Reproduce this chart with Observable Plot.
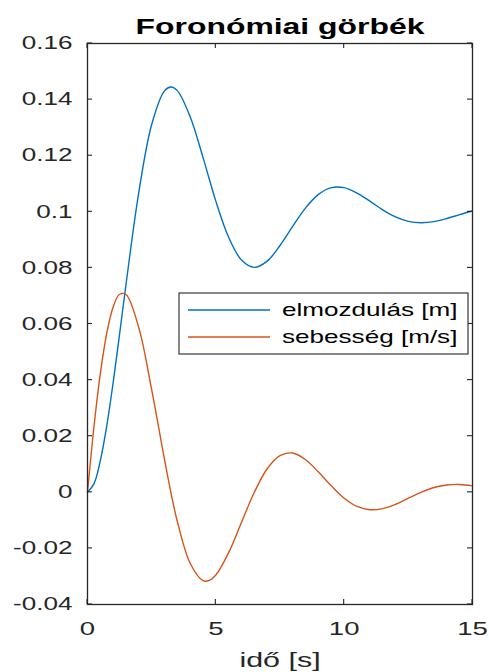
<!DOCTYPE html>
<html>
<head>
<meta charset="utf-8">
<script src="https://cdn.jsdelivr.net/npm/d3@7"></script>
<script src="https://cdn.jsdelivr.net/npm/@observablehq/plot@0.6"></script>
<style>
  html, body { margin: 0; padding: 0; background: #fff; }
  svg { display: block; }
</style>
</head>
<body>
<div id="chart"></div>
<script>
const titleText = "Foronómiai görbék";
const xLabelText = "idő [s]";
const seriesNames = ["elmozdulás [m]", "sebesség [m/s]"];
const seriesColors = ["#0072BD", "#D95319"];

const time = [0,0.25,0.5,0.75,1,1.25,1.5,2,2.5,3,3.25,3.5,4,4.5,4.75,5,5.5,6,6.5,7,7.5,8,8.5,9,9.5,10,10.5,11,11.5,12,12.5,13,13.5,14,14.5,15];
const displacement = [0,0.0030,0.0113,0.0237,0.0391,0.0564,0.0741,0.1070,0.1311,0.1431,0.1445,0.1432,0.1339,0.1194,0.1115,0.1038,0.0909,0.0828,0.0802,0.0824,0.0880,0.0949,0.1014,0.1062,0.1086,0.1086,0.1067,0.1038,0.1007,0.0982,0.0966,0.0961,0.0965,0.0976,0.0990,0.1003];
const velocity = [0,0.0232,0.0423,0.0567,0.0661,0.0706,0.0705,0.0586,0.0366,0.0117,-0.0001,-0.0104,-0.0253,-0.0315,-0.0314,-0.0295,-0.0215,-0.0107,0.0000,0.0084,0.0131,0.0140,0.0116,0.0072,0.0023,-0.0021,-0.0050,-0.0062,-0.0058,-0.0043,-0.0021,0.0000,0.0017,0.0026,0.0028,0.0023];

const xTicks = [0, 5, 10, 15];
const yTicks = [-0.04, -0.02, 0, 0.02, 0.04, 0.06, 0.08, 0.1, 0.12, 0.14, 0.16];

const dispData = time.map((t, i) => ({t, v: displacement[i]}));
const velData = time.map((t, i) => ({t, v: velocity[i]}));

(function () {
  const W = 489, H = 672;
  const mL = 87, mR = 17, mT = 43, mB = 68;
  const axisColor = "#262626";
  const font = "'Liberation Sans', Arial, sans-serif";
  const SX = 1.45; // horizontal glyph stretch seen in the reference

  const plot = Plot.plot({
    width: W, height: H,
    marginLeft: mL, marginRight: mR, marginTop: mT, marginBottom: mB,
    x: {domain: [0, 15]},
    y: {domain: [-0.04, 0.16]},
    style: {fontFamily: font, background: "#fff", color: axisColor},
    marks: [
      Plot.axisY(yTicks, {tickSize: 0, tickPadding: 15, fontSize: 18, label: null,
        tickFormat: d => String(+d.toFixed(2))}),
      Plot.axisX(xTicks, {tickSize: 0, tickPadding: 17, fontSize: 19, label: null}),
      Plot.line(dispData, {x: "t", y: "v", stroke: seriesColors[0], strokeWidth: 1.4, curve: "catmull-rom"}),
      Plot.line(velData, {x: "t", y: "v", stroke: seriesColors[1], strokeWidth: 1.4, curve: "catmull-rom"}),
      Plot.frame({stroke: axisColor, strokeWidth: 1.3}),
      Plot.text([titleText], {frameAnchor: "top", lineAnchor: "bottom", dy: -10, fontSize: 22, fontWeight: "bold", fill: "#000"}),
      Plot.text([xLabelText], {frameAnchor: "bottom", lineAnchor: "bottom", dy: 62, fontSize: 21, fill: axisColor})
    ]
  });

  const svg = d3.select(plot);
  const xs = plot.scale("x"), ys = plot.scale("y");
  const yTop = mT, yBottom = H - mB, xLeft = mL, xRight = W - mR;
  const tl = 5;
  const tg = svg.append("g").attr("stroke", axisColor).attr("stroke-width", 1.1);
  for (const v of xTicks) {
    const x = xs.apply(v);
    tg.append("line").attr("x1", x).attr("x2", x).attr("y1", yBottom).attr("y2", yBottom - tl);
    tg.append("line").attr("x1", x).attr("x2", x).attr("y1", yTop).attr("y2", yTop + tl);
  }
  for (const v of yTicks) {
    const y = ys.apply(v);
    tg.append("line").attr("y1", y).attr("y2", y).attr("x1", xLeft).attr("x2", xLeft + tl);
    tg.append("line").attr("y1", y).attr("y2", y).attr("x1", xRight).attr("x2", xRight - tl);
  }

  // legend
  const lg = svg.append("g");
  lg.append("rect").attr("x", 179).attr("y", 293).attr("width", 289).attr("height", 61)
    .attr("fill", "#fff").attr("stroke", axisColor).attr("stroke-width", 1.1);
  seriesNames.forEach((name, i) => {
    const y = 310 + i * 27;
    lg.append("line").attr("x1", 188).attr("x2", 270).attr("y1", y).attr("y2", y)
      .attr("stroke", seriesColors[i]).attr("stroke-width", 1.4);
    lg.append("text").attr("x", 282).attr("y", y + 6).attr("font-size", 18)
      .attr("text-anchor", "start")
      .attr("font-family", font).attr("fill", "#000").text(name);
  });

  // stretch glyphs horizontally around their anchor
  svg.selectAll("text").each(function () {
    const x = +(this.getAttribute("x") || 0);
    const t = this.getAttribute("transform") || "";
    this.setAttribute("transform", `${t} translate(${x},0) scale(${SX},1) translate(${-x},0)`);
  });

  document.getElementById("chart").appendChild(plot);
})();
</script>
</body>
</html>
